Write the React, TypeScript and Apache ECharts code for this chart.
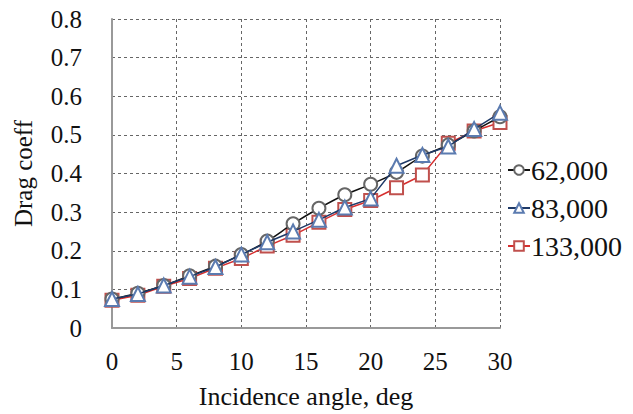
import React, { useEffect, useRef } from "react";
import * as echarts from "echarts";

const angles = [0, 2, 4, 6, 8, 10, 12, 14, 16, 18, 20, 22, 24, 26, 28, 30];
const re62000 = [0.075, 0.09, 0.11, 0.135, 0.16, 0.19, 0.225, 0.27, 0.31, 0.345, 0.372, 0.403, 0.445, 0.474, 0.51, 0.547];
const re83000 = [0.075, 0.088, 0.11, 0.133, 0.158, 0.19, 0.222, 0.25, 0.28, 0.312, 0.335, 0.42, 0.448, 0.47, 0.515, 0.557];
const re133000 = [0.072, 0.085, 0.108, 0.128, 0.155, 0.18, 0.212, 0.24, 0.274, 0.307, 0.33, 0.363, 0.396, 0.478, 0.51, 0.532];
const seriesNames = ["62,000", "83,000", "133,000"];

const FONT = "'Liberation Serif', 'Times New Roman', serif";

export default function App() {
  const ref = useRef<HTMLDivElement>(null);
  useEffect(() => {
    if (!ref.current) return;
    const chart = echarts.init(ref.current, null, { renderer: "svg" });
    const pair = (vals: number[]) => angles.map((a, i) => [a, vals[i]]);
    chart.setOption({
      animation: false,
      backgroundColor: "#fff",
      grid: { left: 112, right: 133, top: 19, bottom: 82 },
      xAxis: {
        type: "value",
        min: 0,
        max: 30,
        interval: 5,
        name: "Incidence angle, deg",
        nameLocation: "middle",
        nameGap: 55,
        nameTextStyle: { fontFamily: FONT, fontSize: 26, color: "#111" },
        axisLine: { show: true, lineStyle: { color: "#999", width: 2 } },
        axisTick: { show: false },
        axisLabel: { fontFamily: FONT, fontSize: 25, color: "#111", margin: 21 },
        splitLine: { show: true, lineStyle: { color: "#666", type: [3, 3], width: 1 } },
      },
      yAxis: {
        type: "value",
        min: 0,
        max: 0.8,
        interval: 0.1,
        name: "Drag coeff",
        nameLocation: "middle",
        nameGap: 76,
        nameTextStyle: { fontFamily: FONT, fontSize: 25, color: "#111" },
        axisLine: { show: true, lineStyle: { color: "#999", width: 2 } },
        axisTick: { show: false },
        axisLabel: {
          fontFamily: FONT,
          fontSize: 25,
          color: "#111",
          margin: 30,
          formatter: (v: number) => (v === 0 ? "0" : v.toFixed(1)),
        },
        splitLine: { show: true, lineStyle: { color: "#666", type: [3, 3], width: 1 } },
      },
      legend: {
        orient: "vertical",
        left: 502,
        top: 151,
        itemWidth: 22,
        itemHeight: 12,
        itemGap: 10,
        textStyle: { fontFamily: FONT, fontSize: 28, color: "#111", lineHeight: 28, padding: [0, 0, 0, -4] },
        data: seriesNames,
      },
      series: [
        {
          name: seriesNames[0],
          type: "line",
          data: pair(re62000),
          smooth: 0.35,
          symbol: "emptyCircle",
          symbolSize: 13,
          lineStyle: { color: "#111", width: 1.5, type: "solid" },
          itemStyle: { color: "#666", borderColor: "#666", borderWidth: 1 },
          z: 3,
        },
        {
          name: seriesNames[1],
          type: "line",
          data: pair(re83000),
          symbol: "emptyTriangle",
          symbolSize: 14,
          lineStyle: { color: "#1f3a68", width: 1.5, type: "solid" },
          itemStyle: { color: "#5b7bb0", borderColor: "#5b7bb0", borderWidth: 1 },
          z: 4,
        },
        {
          name: seriesNames[2],
          type: "line",
          data: pair(re133000),
          symbol: "emptyRect",
          symbolSize: 13,
          lineStyle: { color: "#d62f2f", width: 1.5, type: "solid" },
          itemStyle: { color: "#c0504d", borderColor: "#c0504d", borderWidth: 1 },
          z: 2,
        },
      ],
    });
    return () => chart.dispose();
  }, []);
  return <div ref={ref} style={{ width: 633, height: 414, position: "absolute", left: 0, top: 0 }} />;
}
